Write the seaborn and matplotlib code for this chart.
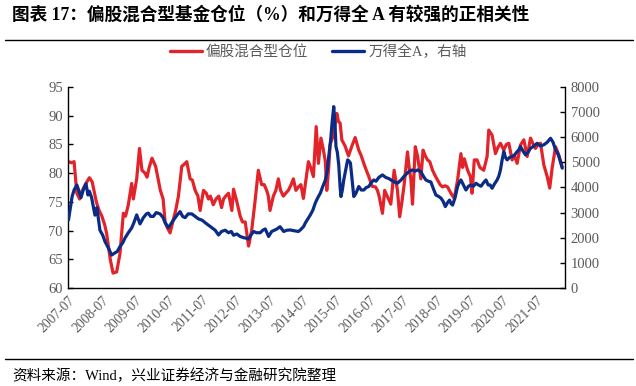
import numpy as np
import pandas as pd
import matplotlib
matplotlib.use("Agg")
import matplotlib.pyplot as plt
from matplotlib.lines import Line2D
import seaborn as sns

# ---- data (month offsets from 2007-07) ----
red_months = [0, 1, 2, 3, 4, 5, 6, 7.5, 8.5, 10, 11, 12, 13, 13.7, 15, 16, 17.3, 18.5, 19.7, 20.5,
              21.5, 22.7, 23.3, 24.5, 25.5, 26.4, 27.5, 28.2, 29, 30, 31.3, 32, 33, 34, 34.7, 35.5,
              36.5, 37.7, 38.5, 39.5, 40.7, 41.5, 42.5, 43.7, 44.5, 45.5, 46.5, 47.3, 48.5, 49.5,
              50.3, 51, 52, 53, 54, 55, 55.7, 56.5, 57.5, 58.7, 59.3, 60.5, 61.7, 62.5, 63.5, 64.2,
              64.7, 65.8, 67, 68.2, 69.4, 70.3, 71.2, 71.8, 72.4, 73.6, 74.5, 75.4, 76.2, 77.2,
              78.4, 79, 80, 80.8, 81.7, 82.6, 83.5, 84.4, 85.2, 86.2, 87, 88, 89, 89.8, 90.7, 91.6,
              92.3, 92.8, 93.5, 94, 95.2, 96.4, 97, 97.6, 98.2, 99.4, 100.6, 101.8, 103, 104.3,
              105.2, 106.1, 107, 107.9, 109.1, 110.3, 111, 111.6, 112.8, 113.6, 114.5, 115.8, 117,
              118.2, 119, 119.8, 120.6, 121.8, 122.4, 123, 123.6, 124.6, 125.4, 126, 126.6, 127.4,
              128.2, 129, 129.8, 130.8, 131.8, 132.6, 133.5, 134.4, 135.3, 136.2, 137.4, 138.6,
              139.8, 141, 141.6, 142.2, 143.4, 144.4, 145, 145.8, 146.8, 147.8, 149.2, 150.4, 151,
              152.2, 153.4, 154.3, 155.2, 156.4, 157.3, 158.2, 159.4, 160.3, 161.2, 162.4, 163.6,
              164.8, 166, 167, 167.8, 168.7, 169.6, 170.8, 172, 172.9, 173.8, 175, 176.2, 177.4]
red_values = [82.0, 81.8, 82.0, 76.5, 75.5, 77, 78, 79.2, 78.5, 75, 73.5, 72.5, 71, 69.5, 65, 62.6,
              62.8, 66, 73, 72.5, 74.5, 78.2, 75.5, 79, 84.3, 80.5, 80, 79.3, 81, 82.6, 81.2, 79.5,
              77, 75.5, 71.5, 70.5, 69.6, 72, 73.5, 76, 81.2, 81.5, 82, 79, 78.8, 77, 76, 73.5, 77,
              76.5, 75.5, 76, 74.5, 75.5, 76, 74, 75.5, 76, 76.5, 73.5, 77.2, 75, 72.5, 71.5, 71.5,
              69, 67.3, 70, 75, 80.5, 78, 78, 77, 76, 73.5, 76, 77, 79, 77, 76, 76.7, 77, 78, 79,
              77, 77.6, 78, 75.6, 78.5, 82, 81, 79.4, 88.1, 81.7, 86.1, 84, 82, 77, 81, 85, 86.6,
              90.4, 89, 88.7, 85.8, 84.7, 83, 84.7, 86.2, 84, 83, 81.7, 80.5, 79.4, 77.7, 77.6, 77,
              76, 73, 77, 76, 74.6, 80.5, 77, 72.4, 75, 78, 83.7, 81, 79, 74.6, 84.6, 83, 81, 79,
              84, 83, 82.3, 82, 80.5, 79.5, 78.8, 78, 77.6, 77.8, 77.6, 76.5, 75.6, 78.8, 83.4, 81,
              82.5, 80.5, 79.4, 76.5, 82.3, 82.3, 81, 80.5, 82.9, 87.5, 86.6, 83.4, 84.5, 85.2, 84,
              85, 85.2, 82.3, 83, 81.7, 84.9, 85.8, 82.9, 86.1, 85, 84.3, 85, 85.2, 81.4, 79.4,
              77.4, 81, 84.6, 83.1, 81.1]

blue_months = [0, 0.7, 1.3, 2, 3, 3.8, 4.5, 5.3, 6.3, 7, 7.5, 8.3, 9.5, 10.2, 11.3, 12.3, 13.1, 14.3,
               15.5, 16.7, 17.5, 18.5, 19.5, 20.3, 21.5, 22.7, 23.5, 24.5, 25.7, 26.9, 28, 28.7,
               29.5, 30.5, 31.5, 32.9, 34, 34.7, 35.9, 36.8, 37.7, 39, 40.1, 41, 41.9, 43, 44.3,
               45.5, 46.7, 48, 49.1, 50.3, 51.5, 52.7, 53.9, 55, 56.3, 57.5, 58.5, 59.3, 60.5, 61.7,
               63, 64, 64.7, 65.5, 66.5, 67.5, 68.9, 69.8, 70.7, 71.9, 73, 74, 74.9, 76, 77.3, 78.5,
               79.7, 81, 82.6, 83.3, 84.5, 85.1, 86.3, 86.9, 87.8, 88.7, 89.6, 90.5, 91.4, 92.3, 93,
               93.5, 94.2, 94.7, 95.3, 95.8, 96.1, 96.6, 97.1, 97.6, 97.9, 98.4, 98.9, 99.6, 100.3,
               100.8, 101.3, 101.9, 102.5, 103.2, 104.3, 105.2, 106.1, 107, 107.9, 108.8, 109.7,
               110.5, 111.5, 112.8, 114, 115.2, 116.5, 118.2, 119.5, 120.6, 121.5, 122.5, 123.6,
               124.5, 125.5, 126.6, 127.5, 128.4, 129.3, 130.2, 131.1, 132, 132.9, 133.8, 134.6,
               135.4, 136.2, 136.9, 137.5, 138, 138.9, 139.8, 140.4, 141, 141.9, 142.8, 143.7, 144.6,
               145.5, 146.4, 147.3, 148.2, 149.2, 150, 150.8, 151.5, 152.2, 153.1, 154, 154.6, 155.2,
               155.8, 156.4, 157, 157.6, 158.5, 159.4, 160.3, 161.2, 161.8, 162.4, 163.3, 164.2,
               165.1, 166, 167.2, 168.4, 169.6, 170.8, 172, 173.2, 174.1, 175, 175.6, 176.2, 176.8,
               177.4]
blue_values = [2710, 3200, 3640, 3900, 4100, 3850, 3600, 3900, 4150, 3700, 3850, 3600, 2900, 3200,
               2300, 2100, 1850, 1600, 1310, 1400, 1450, 1650, 1800, 1990, 2200, 2390, 2600, 2910,
               2550, 2800, 2950, 2980, 2850, 2850, 3000, 2950, 2800, 2600, 2400, 2550, 2700, 2900,
               3040, 2850, 2800, 2950, 2950, 2850, 2750, 2700, 2600, 2500, 2400, 2300, 2110, 2250,
               2300, 2200, 2250, 2100, 2150, 2050, 2000, 1980, 1950, 2100, 2250, 2200, 2200, 2300,
               2350, 2050, 2250, 2300, 2350, 2440, 2250, 2300, 2310, 2280, 2250, 2310, 2450, 2590,
               2800, 2910, 3100, 3390, 3600, 3780, 4050, 4300, 4700, 5230, 5900, 6570, 7220, 6400,
               5630, 5400, 4900, 4000, 3640, 3900, 4300, 4700, 5100, 5050, 4970, 4300, 3640, 3750,
               4040, 3900, 3900, 4000, 4040, 4200, 4300, 4250, 4400, 4500, 4400, 4350, 4250, 4170,
               4300, 4450, 4550, 4650, 4700, 4650, 4700, 4630, 4450, 4300, 4250, 4220, 3950, 3700,
               3650, 3580, 3450, 3240, 3400, 3500, 3350, 3300, 3600, 4040, 4200, 4300, 4100, 3900,
               4050, 4100, 4050, 4170, 4100, 4050, 4200, 4300, 4100, 4100, 3970, 4150, 4300, 4450,
               4700, 5100, 5430, 5200, 5100, 5200, 5230, 5300, 5430, 5500, 5630, 5450, 5300, 5400,
               5560, 5650, 5760, 5650, 5700, 5800, 5960, 5800, 5500, 5400, 5230, 5000, 4770]

tick_labels = ["2007-07", "2008-07", "2009-07", "2010-07", "2011-07", "2012-07", "2013-07",
               "2014-07", "2015-07", "2016-07", "2017-07", "2018-07", "2019-07", "2020-07", "2021-07"]
left_ticks = [60, 65, 70, 75, 80, 85, 90, 95]
right_ticks = [0, 1000, 2000, 3000, 4000, 5000, 6000, 7000, 8000]
red_name = "偏股混合型仓位"
blue_name = "万得全A，右轴"
title = "图表 17：偏股混合型基金仓位（%）和万得全 A 有较强的正相关性"
source = "资料来源：Wind，兴业证券经济与金融研究院整理"

# ---- build ----
sns.set_theme(style="white")
plt.rcParams['font.family'] = ['Liberation Serif', 'Noto Sans CJK SC', 'DejaVu Sans']

start = pd.Timestamp("2007-07-01")
def to_dates(months):
    return start + pd.to_timedelta(np.array(months) * 30.4375, unit="D")

red_df = pd.DataFrame({"date": to_dates(red_months), "v": red_values})
blue_df = pd.DataFrame({"date": to_dates(blue_months), "v": blue_values})

RED = "#E3232A"
BLUE = "#0B2C86"
GRAY = "#595959"

fig = plt.figure(figsize=(6.36, 3.86), dpi=100)
ax = fig.add_axes([0.1077, 0.2539, 0.7807, 0.5207])
ax2 = ax.twinx()

sns.lineplot(data=red_df, x="date", y="v", ax=ax, color=RED, lw=2.3, legend=False)
sns.lineplot(data=blue_df, x="date", y="v", ax=ax2, color=BLUE, lw=2.3, legend=False)

ax.set_xlim(start, start + pd.Timedelta(days=178.4 * 30.4375))
ax.set_ylim(60, 95)
ax2.set_ylim(0, 8000)
ax.set_yticks(left_ticks)
ax2.set_yticks(right_ticks)
xt = pd.to_datetime([t + "-01" for t in tick_labels])
ax.set_xticks(xt)
ax.set_xticklabels(tick_labels, rotation=45, ha="right", rotation_mode="anchor")
ax.set_xlabel("")
ax.set_ylabel("")
ax2.set_ylabel("")

for a in (ax, ax2):
    for s in a.spines.values():
        s.set_color("black")
        s.set_linewidth(1.0)
    a.spines["top"].set_visible(False)
    a.tick_params(direction="in", length=3.5, width=1.0, color="black",
                  labelsize=10.5, labelcolor=GRAY, pad=4)
    a.grid(False)
ax.spines["right"].set_visible(False)
ax2.spines["left"].set_visible(False)
ax2.spines["bottom"].set_visible(False)
ax.tick_params(axis="x", labelsize=9.8, pad=4)

handles = [Line2D([], [], color=RED, lw=2.4), Line2D([], [], color=BLUE, lw=2.4)]
fig.legend(handles, [red_name, blue_name], loc="center", bbox_to_anchor=(0.50, 0.865),
           ncol=2, frameon=False, handlelength=2.2, handletextpad=0.3, columnspacing=1.6,
           prop={"size": 10.5}, labelcolor=GRAY)

fig.text(0.019, 0.962, title, fontsize=12.7, fontweight="bold", color="black",
         ha="left", va="center")
fig.add_artist(Line2D([0.008, 0.995], [1 - 39.5 / 386] * 2, color="black", lw=1.0))
fig.add_artist(Line2D([0.008, 0.995], [1 - 359 / 386] * 2, color="black", lw=1.0))
fig.text(0.019, 1 - 376 / 386, source, fontsize=10.5, color="black", ha="left", va="center")

fig.savefig("out.png", dpi=100)
